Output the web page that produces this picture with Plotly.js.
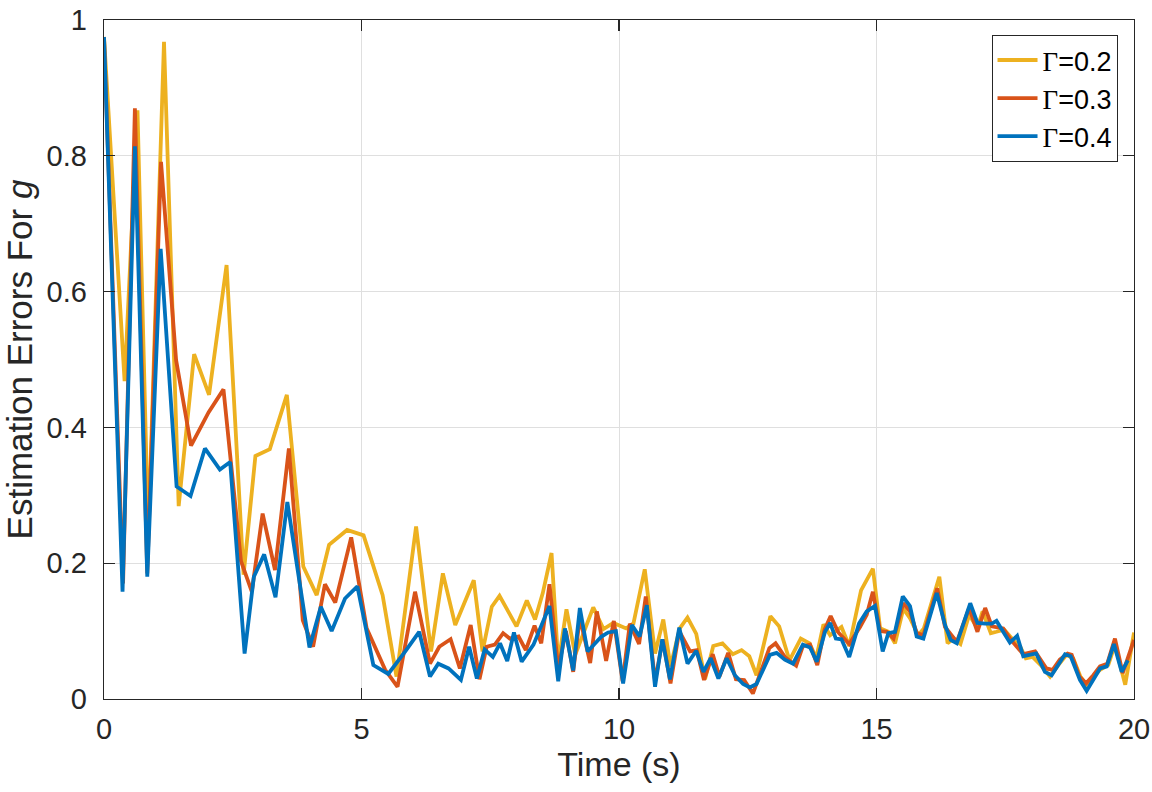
<!DOCTYPE html>
<html>
<head>
<meta charset="utf-8">
<script src="https://cdn.plot.ly/plotly-3.0.1.min.js"></script>
<style>
  html, body { margin: 0; padding: 0; background: #fff; }
  #plot { width: 1152px; height: 792px; }
</style>
</head>
<body>
<div id="plot"></div>
<script>
"use strict";

// estimation error of g, one time base per gain
var tY = [0, 0.40, 0.65, 0.86, 1.165, 1.45, 1.75, 2.04, 2.38, 2.71, 2.94, 3.22, 3.55, 3.87, 4.13, 4.37, 4.72,
    5.04, 5.41, 5.68, 6.06, 6.35, 6.58, 6.82, 7.18, 7.35, 7.53, 7.68, 8.01, 8.21, 8.37, 8.52, 8.69, 8.82, 8.98,
    9.15, 9.50, 9.70, 9.89, 10.14, 10.28, 10.50, 10.70, 10.86, 11.00, 11.18, 11.33, 11.50, 11.67, 11.83, 12.01,
    12.21, 12.38, 12.53, 12.67, 12.94, 13.11, 13.31, 13.53, 13.70, 13.83, 13.97, 14.10, 14.32, 14.47, 14.70,
    14.93, 15.07, 15.23, 15.36, 15.52, 15.65, 15.81, 15.92, 16.22, 16.38, 16.50, 16.63, 16.80, 16.96, 17.06,
    17.22, 17.33, 17.48, 17.63, 17.79, 17.90, 18.03, 18.19, 18.37, 18.53, 18.69, 18.82, 18.96, 19.08, 19.21,
    19.34, 19.50, 19.63, 19.83, 20.0];
var vY = [0.975, 0.468, 0.867, 0.24, 0.968, 0.284, 0.508, 0.448, 0.639, 0.183, 0.358, 0.368, 0.448, 0.195, 0.153, 0.227, 0.249,
    0.241, 0.153, 0.033, 0.254, 0.070, 0.185, 0.109, 0.175, 0.070, 0.136, 0.152, 0.107, 0.145, 0.117, 0.156, 0.215, 0.052, 0.132,
    0.065, 0.135, 0.103, 0.112, 0.104, 0.111, 0.191, 0.067, 0.117, 0.048, 0.104, 0.120, 0.096, 0.029, 0.078, 0.082,
    0.066, 0.072, 0.063, 0.035, 0.122, 0.107, 0.057, 0.089, 0.082, 0.060, 0.110, 0.094, 0.106, 0.078, 0.160,
    0.192, 0.104, 0.099, 0.082, 0.133, 0.119, 0.094, 0.104, 0.180, 0.082, 0.089, 0.081, 0.124, 0.104, 0.129,
    0.097, 0.099, 0.102, 0.089, 0.077, 0.060, 0.062, 0.050, 0.033, 0.050, 0.065, 0.060, 0.033, 0.021, 0.033,
    0.043, 0.050, 0.080, 0.021, 0.098];

var tO = [0, 0.37, 0.60, 0.84, 1.107, 1.40, 1.69, 2.03, 2.32, 2.66, 2.87, 3.08, 3.32, 3.59, 3.86, 4.06, 4.29, 4.49,
    4.80, 5.10, 5.46, 5.70, 6.04, 6.33, 6.51, 6.73, 6.91, 7.12, 7.29, 7.43, 7.59, 7.75, 7.88, 8.05, 8.19, 8.36,
    8.49, 8.65, 8.82, 8.97, 9.11, 9.24, 9.44, 9.57, 9.75, 9.90, 10.07, 10.21, 10.39, 10.52, 10.70, 10.85, 11.00,
    11.17, 11.38, 11.51, 11.65, 11.82, 11.95, 12.12, 12.27, 12.43, 12.60, 12.74, 12.92, 13.04, 13.22, 13.44,
    13.57, 13.71, 13.85, 13.99, 14.11, 14.26, 14.47, 14.68, 14.81, 14.93, 15.07, 15.20, 15.33, 15.52, 15.65,
    15.78, 15.91, 16.18, 16.33, 16.56, 16.80, 16.96, 17.11, 17.24, 17.33, 17.46, 17.61, 17.72, 17.85, 18.08,
    18.30, 18.42, 18.56, 18.71, 18.79, 18.94, 19.07, 19.21, 19.34, 19.48, 19.63, 19.78, 20.0];
var vO = [0.975, 0.17, 0.870, 0.185, 0.791, 0.499, 0.373, 0.422, 0.456, 0.203, 0.158, 0.273, 0.190, 0.369, 0.116, 0.077, 0.169, 0.142,
    0.238, 0.104, 0.043, 0.018, 0.158, 0.052, 0.077, 0.088, 0.045, 0.109, 0.029, 0.077, 0.080, 0.097, 0.089, 0.092, 0.072, 0.108,
    0.082, 0.169, 0.045, 0.100, 0.040, 0.120, 0.053, 0.129, 0.056, 0.115, 0.026, 0.111, 0.081, 0.151, 0.026, 0.088, 0.023,
    0.100, 0.070, 0.072, 0.028, 0.066, 0.033, 0.068, 0.029, 0.028, 0.008, 0.038, 0.075, 0.082, 0.062, 0.049,
    0.078, 0.080, 0.050, 0.102, 0.122, 0.098, 0.081, 0.106, 0.124, 0.158, 0.100, 0.099, 0.089, 0.141, 0.129,
    0.097, 0.094, 0.163, 0.106, 0.084, 0.134, 0.099, 0.134, 0.107, 0.106, 0.104, 0.087, 0.077, 0.066, 0.070,
    0.045, 0.043, 0.058, 0.067, 0.065, 0.033, 0.023, 0.035, 0.048, 0.052, 0.089, 0.038, 0.087];

var tB = [0, 0.36, 0.60, 0.84, 1.10, 1.41, 1.68, 1.96, 2.25, 2.45, 2.73, 2.91, 3.11, 3.33, 3.56, 3.99, 4.21, 4.42,
    4.68, 4.92, 5.23, 5.52, 5.85, 6.12, 6.33, 6.49, 6.69, 6.93, 7.09, 7.24, 7.39, 7.55, 7.69, 7.83, 7.96, 8.11,
    8.34, 8.65, 8.82, 8.95, 9.11, 9.24, 9.39, 9.53, 9.66, 9.79, 9.94, 10.08, 10.25, 10.40, 10.54, 10.70, 10.84,
    10.99, 11.17, 11.33, 11.50, 11.64, 11.78, 11.93, 12.09, 12.25, 12.41, 12.54, 12.67, 12.93, 13.06, 13.22,
    13.38, 13.57, 13.71, 13.84, 14.00, 14.10, 14.21, 14.32, 14.47, 14.66, 14.81, 14.97, 15.12, 15.23, 15.36,
    15.51, 15.65, 15.78, 15.91, 16.17, 16.33, 16.44, 16.56, 16.82, 16.96, 17.11, 17.24, 17.33, 17.46, 17.59,
    17.73, 17.85, 18.10, 18.27, 18.40, 18.55, 18.66, 18.77, 18.95, 19.08, 19.21, 19.34, 19.47, 19.61, 19.76, 19.88];
var vB = [0.975, 0.158, 0.814, 0.180, 0.663, 0.313, 0.299, 0.369, 0.338, 0.349, 0.067, 0.180, 0.213, 0.150, 0.290, 0.076, 0.136, 0.100,
    0.148, 0.166, 0.050, 0.037, 0.070, 0.099, 0.033, 0.052, 0.045, 0.028, 0.077, 0.030, 0.073, 0.062, 0.082, 0.056, 0.098, 0.055,
    0.080, 0.137, 0.026, 0.104, 0.042, 0.134, 0.070, 0.082, 0.092, 0.098, 0.100, 0.023, 0.109, 0.092, 0.138, 0.018, 0.088,
    0.029, 0.105, 0.052, 0.071, 0.040, 0.060, 0.030, 0.060, 0.035, 0.022, 0.017, 0.022, 0.065, 0.068, 0.058,
    0.052, 0.080, 0.076, 0.055, 0.099, 0.112, 0.089, 0.088, 0.062, 0.111, 0.129, 0.137, 0.070, 0.097, 0.099,
    0.151, 0.137, 0.092, 0.089, 0.156, 0.109, 0.087, 0.082, 0.141, 0.112, 0.111, 0.111, 0.115, 0.100, 0.083,
    0.093, 0.063, 0.067, 0.040, 0.035, 0.053, 0.066, 0.063, 0.028, 0.012, 0.028, 0.045, 0.048, 0.081, 0.040, 0.057];

var gains = ["0.2", "0.3", "0.4"];
var colors = ["#EDB120", "#D95319", "#0072BD"];
var ink = "#262626";
var sans = "Liberation Sans, Arial, sans-serif";

function gammaLabel(g) {
    return '<span style="font-family:\'Liberation Serif\', serif">\u0393</span>=' + g;
}

var xs = [tY, tO, tB];
var ys = [vY, vO, vB];
var data = [];
for (var i = 0; i < 3; i++) {
    data.push({
        x: xs[i],
        y: ys[i],
        type: "scatter",
        mode: "lines",
        name: gammaLabel(gains[i]),
        line: { color: colors[i], width: 3.8 }
    });
}

var axisStyle = {
    showline: true,
    linecolor: ink,
    linewidth: 1.3,
    mirror: "ticks",
    ticks: "inside",
    ticklen: 11,
    tickwidth: 1.3,
    tickcolor: ink,
    showgrid: true,
    gridcolor: "#dfdfdf",
    gridwidth: 1,
    zeroline: false,
    tickfont: { family: sans, size: 29, color: ink }
};

var layout = {
    width: 1152,
    height: 792,
    margin: { l: 104, r: 18, t: 20, b: 93 },
    paper_bgcolor: "#ffffff",
    plot_bgcolor: "#ffffff",
    showlegend: true,
    xaxis: Object.assign({}, axisStyle, {
        range: [0, 20],
        dtick: 5,
        ticklabelstandoff: 4,
        title: { text: "Time (s)", standoff: 4, font: { family: sans, size: 34, color: ink } }
    }),
    yaxis: Object.assign({}, axisStyle, {
        range: [0, 1],
        dtick: 0.2,
        ticklabelstandoff: 10,
        title: { text: "Estimation Errors For <i>g</i>", standoff: 4, font: { family: sans, size: 35, color: ink } }
    }),
    legend: {
        x: 0.984,
        y: 0.978,
        xanchor: "right",
        yanchor: "top",
        bgcolor: "#ffffff",
        bordercolor: ink,
        borderwidth: 1,
        font: { family: sans, size: 27, color: "#000000" },
        itemwidth: 40
    }
};

Plotly.newPlot("plot", data, layout, { staticPlot: true, displayModeBar: false });
</script>
</body>
</html>
